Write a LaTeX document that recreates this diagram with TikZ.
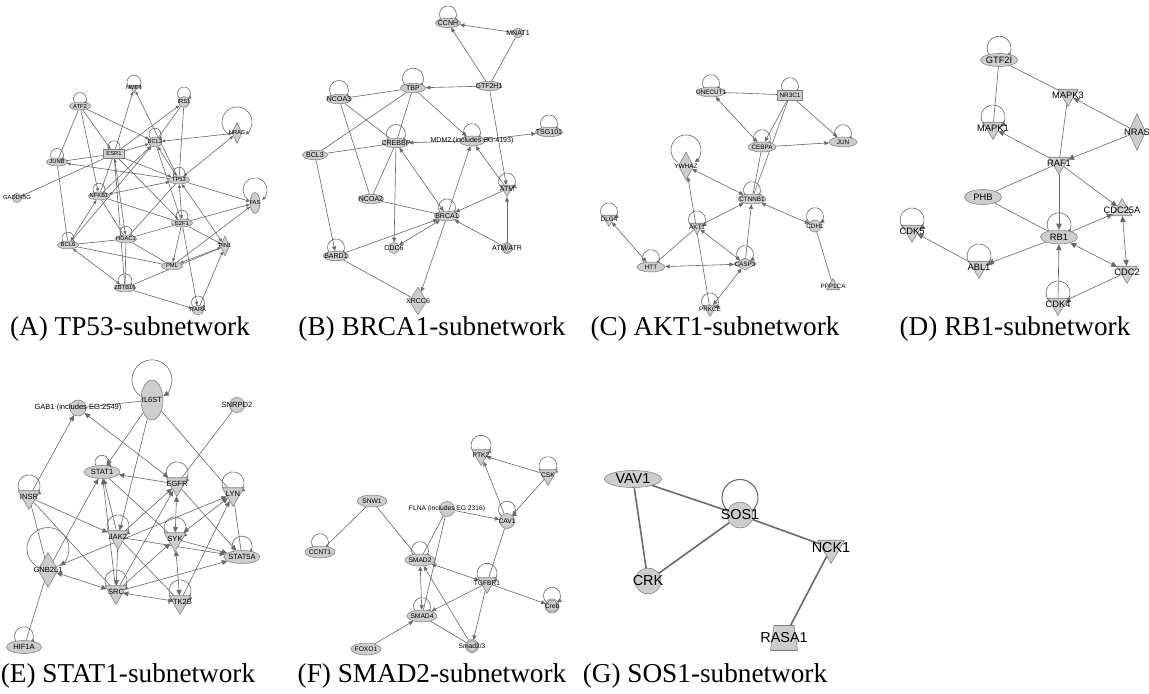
\documentclass[tikz,border=0pt]{standalone}
\usepackage{fontspec}
\setmainfont{Liberation Serif}
\setsansfont{Liberation Sans}
\usetikzlibrary{shapes.geometric,arrows.meta,backgrounds}

\definecolor{genefill}{RGB}{205,205,205}
\definecolor{generim}{RGB}{125,125,125}
\definecolor{linkgray}{RGB}{105,105,105}

\begin{document}
\begin{tikzpicture}[x=0.2mm,y=-0.2mm,
    >={Triangle[length=0.9mm,width=0.8mm]},
    gene/.style={draw=generim,fill=genefill,inner sep=0pt,line width=0.3pt},
    oval/.style 2 args={gene,ellipse,minimum width=#1,minimum height=#2},
    dot/.style={gene,circle,minimum size=#1},
    ddot/.style={dot=#1,double=genefill,double distance=0.35pt},
    down/.style={gene,regular polygon,regular polygon sides=3,shape border rotate=180,minimum size=#1},
    up/.style={gene,regular polygon,regular polygon sides=3,minimum size=#1},
    box/.style 2 args={gene,rectangle,minimum width=#1,minimum height=#2},
    kite/.style 2 args={gene,diamond,minimum width=#1,minimum height=#2},
    tag/.style={label={center:#1}},
    link/.style={draw=linkgray,line width=0.35pt},
    caption/.style={font=\fontsize{15.5}{18}\selectfont,inner sep=0pt}
  ]

  \useasboundingbox (0,0) rectangle (1149,694);

  % (A) TP53
  \begin{scope}[every label/.style={inner sep=0pt,font=\sffamily\fontsize{3.3}{4}\selectfont},
      >={Triangle[length=0.7mm,width=0.6mm]}]
    \node (aNME1) [down=2.1mm,tag=NME1] at (134,88) {};
    \node (aIRS1) [dot=2.2mm,tag=IRS1] at (184,102) {};
    \node (aATF2) [oval={4.2mm}{1.6mm},tag=ATF2] at (80,106) {};
    \node (aBCL2) [oval={2.6mm}{2mm},tag=BCL2] at (155,142) {};
    \node (aNRAS) [kite={2mm}{4.2mm},tag=NRAS] at (237,133) {};
    \node (aESR1) [box={4.2mm}{1.8mm},tag=ESR1] at (114,154) {};
    \node (aJUNB) [oval={4.2mm}{1.6mm},tag=JUNB] at (57,162) {};
    \node (aTP53) [oval={4.2mm}{1.6mm},tag=TP53] at (179,180) {};
    \node (aGADD) [dot=1.8mm,tag=GADD45G] at (17,198) {};
    \node (aNFKB1) [oval={4.2mm}{1.6mm},tag=NFKB1] at (99,196) {};
    \node (aFAS) [oval={2mm}{4.2mm},tag=FAS] at (255,203) {};
    \node (aE2F1) [oval={4.2mm}{1.6mm},tag=E2F1] at (182,223) {};
    \node (aHDAC1) [oval={4.2mm}{1.6mm},tag=HDAC1] at (126,239) {};
    \node (aBCL6) [oval={4.2mm}{1.6mm},tag=BCL6] at (68,245) {};
    \node (aPIN1) [kite={1.8mm}{4mm},tag=PIN1] at (225,246) {};
    \node (aPML) [oval={4.2mm}{1.6mm},tag=PML] at (172,266) {};
    \node (aZBTB16) [oval={4.2mm}{1.6mm},tag=ZBTB16] at (125,288) {};
    \node (aRARA) [oval={2.4mm}{1.8mm},tag=RARA] at (198,310) {};

    \begin{scope}[on background layer]
      \foreach \s/\t in {aATF2/aJUNB,aESR1/aJUNB,aESR1/aNFKB1,aESR1/aZBTB16,aIRS1/aTP53,
          aIRS1/aBCL2,aJUNB/aBCL6,aTP53/aHDAC1,aNFKB1/aE2F1,aNFKB1/aHDAC1,aBCL6/aHDAC1,
          aBCL6/aPML,aHDAC1/aE2F1,aHDAC1/aPML,aHDAC1/aZBTB16,aE2F1/aBCL2,aZBTB16/aPIN1}
        \draw[link] (\s) -- (\t);
      \foreach \s/\t in {aATF2/aESR1,aATF2/aNFKB1,aATF2/aBCL2,aESR1/aNME1,aESR1/aIRS1,
          aESR1/aBCL2,aESR1/aGADD,aESR1/aTP53,aESR1/aE2F1,aTP53/aNME1,aTP53/aJUNB,
          aTP53/aFAS,aNFKB1/aBCL2,aBCL6/aBCL2,aE2F1/aFAS,aE2F1/aPIN1,aE2F1/aPML,
          aE2F1/aRARA,aPML/aFAS,aZBTB16/aRARA,aRARA/aPIN1}
        \draw[link,->] (\s) -- (\t);
      \foreach \s/\t in {aBCL2/aNRAS,aTP53/aNRAS,aBCL2/aTP53,aTP53/aNFKB1,aTP53/aE2F1,
          aTP53/aPIN1,aESR1/aHDAC1,aNFKB1/aBCL6,aBCL6/aZBTB16,aPML/aPIN1}
        \draw[link,<->] (\s) -- (\t);
      % self loops
      \foreach \n/\r in {aNME1/1.4mm,aIRS1/1.3mm,aATF2/1.3mm,aBCL2/1.2mm,aESR1/1.2mm,
          aJUNB/1.3mm,aTP53/1.2mm,aNFKB1/1.2mm,aE2F1/1.2mm,aBCL6/1.2mm,aHDAC1/1.2mm,
          aZBTB16/1.4mm,aRARA/1.3mm}
        \draw[link,->] ([xshift=-0.574*\r,yshift=-0.4*\r]\n.north) arc[start angle=235,end angle=-55,radius=\r];
      \foreach \n/\r/\h in {aNRAS/3mm/-2.4mm,aFAS/2.4mm/-1.5mm}
        \draw[link,->] ([xshift=-0.574*\r,yshift=\h]\n.north) arc[start angle=235,end angle=-55,radius=\r];
    \end{scope}
  \end{scope}

  % (B) BRCA1
  \begin{scope}[every label/.style={inner sep=0pt,font=\sffamily\fontsize{4}{5}\selectfont}]
    \node (bCCNH) [oval={5mm}{1.9mm},tag=CCNH] at (448,23) {};
    \node (bMNAT1) [dot=2mm,tag=MNAT1] at (518,33) {};
    \node (bGTF2H1) [oval={5mm}{1.9mm},tag=GTF2H1] at (489,86) {};
    \node (bTBP) [oval={5mm}{1.9mm},tag=TBP] at (413,88) {};
    \node (bNCOA3) [oval={5mm}{1.9mm},tag=NCOA3] at (339,99) {};
    \node (bTSG101) [oval={5.4mm}{1.9mm},tag=TSG101] at (549,132) {};
    \node (bMDM2) [oval={5mm}{2mm},tag={MDM2 (includes EG:4193)}] at (472,141) {};
    \node (bCREBBP) [oval={5mm}{1.9mm},tag=CREBBP] at (396,143) {};
    \node (bBCL3) [oval={5mm}{1.9mm},tag=BCL3] at (315,155) {};
    \node (bATM) [down=3mm,tag=ATM] at (507,189) {};
    \node (bNCOA2) [oval={5mm}{1.9mm},tag=NCOA2] at (371,199) {};
    \node (bBRCA1) [oval={5mm}{1.9mm},tag=BRCA1] at (447,216) {};
    \node (bCDC6) [dot=2.2mm,tag=CDC6] at (394,248) {};
    \node (bATMATR) [ddot=2mm,tag=ATM/ATR] at (507,248) {};
    \node (bBARD1) [oval={5mm}{1.9mm},tag=BARD1] at (336,256) {};
    \node (bXRCC6) [kite={3.4mm}{5.6mm},tag=XRCC6] at (418,301) {};

    \begin{scope}[on background layer]
      \foreach \s/\t in {bGTF2H1/bMNAT1,bTBP/bNCOA3,bTBP/bBCL3,bTBP/bCREBBP,bNCOA3/bCREBBP,
          bNCOA3/bNCOA2,bBCL3/bCREBBP,bCREBBP/bNCOA2,bNCOA2/bBRCA1,bBARD1/bXRCC6}
        \draw[link] (\s) -- (\t);
      \foreach \s/\t in {bMNAT1/bCCNH,bGTF2H1/bCCNH,bGTF2H1/bTBP,bGTF2H1/bATM,bTBP/bMDM2,
          bMDM2/bCREBBP,bBCL3/bBARD1,bCREBBP/bCDC6,bBRCA1/bMDM2,bATM/bMDM2,bATM/bBRCA1,
          bBARD1/bBRCA1,bATMATR/bBRCA1,bATMATR/bATM,bBRCA1/bXRCC6}
        \draw[link,->] (\s) -- (\t);
      \foreach \s/\t in {bMDM2/bTSG101,bCREBBP/bBRCA1,bCDC6/bBRCA1}
        \draw[link,<->] (\s) -- (\t);
      % self loops
      \foreach \n/\r in {bCCNH/1.7mm,bTBP/2.1mm,bNCOA3/1.9mm,bTSG101/1.7mm,bMDM2/1.7mm,
          bCREBBP/1.9mm,bATM/1.7mm,bBRCA1/1.7mm,bBARD1/1.7mm}
        \draw[link,->] ([xshift=-0.574*\r,yshift=-0.4*\r]\n.north) arc[start angle=235,end angle=-55,radius=\r];
    \end{scope}
  \end{scope}

  % (C) AKT1
  \begin{scope}[every label/.style={inner sep=0pt,font=\sffamily\fontsize{3.6}{4.5}\selectfont}]
    \node (cONECUT1) [oval={5.6mm}{2mm},tag=ONECUT1] at (711,92) {};
    \node (cNR3C1) [box={5mm}{2mm},tag=NR3C1] at (790,95) {};
    \node (cJUN) [oval={5.6mm}{2mm},tag=JUN] at (843,142) {};
    \node (cCEBPA) [oval={5.6mm}{2mm},tag=CEBPA] at (762,147) {};
    \node (cYWHAZ) [kite={3mm}{5.6mm},tag=YWHAZ] at (686,166) {};
    \node (cCTNNB1) [oval={5.6mm}{2mm},tag=CTNNB1] at (752,199) {};
    \node (cDLG4) [down=3mm,tag=DLG4] at (609,219) {};
    \node (cCDH1) [dot=2.4mm,tag=CDH1] at (815,226) {};
    \node (cAKT1) [down=3mm,tag=AKT1] at (697,227) {};
    \node (cCASP3) [kite={4.6mm}{2.4mm},tag=CASP3] at (745,264) {};
    \node (cHTT) [oval={5.6mm}{2mm},tag=HTT] at (651,267) {};
    \node (cPPP1CA) [up=3mm,tag=PPP1CA] at (833,286) {};
    \node (cPRKCE) [down=3mm,tag=PRKCE] at (710,309) {};

    \begin{scope}[on background layer]
      \foreach \s/\t in {cNR3C1/cONECUT1,cNR3C1/cCTNNB1,cCEBPA/cCTNNB1,cHTT/cAKT1,cCDH1/cPPP1CA}
        \draw[link] (\s) -- (\t);
      \foreach \s/\t in {cNR3C1/cCEBPA,cNR3C1/cJUN,cCEBPA/cJUN,cPRKCE/cYWHAZ,cAKT1/cCTNNB1,
          cCASP3/cCTNNB1}
        \draw[link,->] (\s) -- (\t);
      \foreach \s/\t in {cONECUT1/cCEBPA,cYWHAZ/cCTNNB1,cCTNNB1/cCDH1,cDLG4/cHTT,cHTT/cCASP3,
          cAKT1/cCASP3,cCASP3/cPRKCE}
        \draw[link,<->] (\s) -- (\t);
      % self loops
      \foreach \n/\r in {cONECUT1/1.7mm,cNR3C1/1.7mm,cCEBPA/1.7mm,cJUN/1.7mm,cCTNNB1/1.7mm,
          cDLG4/1.7mm,cAKT1/1.7mm,cCDH1/1.7mm,cHTT/1.7mm,cCASP3/1.7mm,cPRKCE/1.7mm}
        \draw[link,->] ([xshift=-0.574*\r,yshift=-0.4*\r]\n.north) arc[start angle=235,end angle=-55,radius=\r];
      \draw[link,->] ([xshift=-0.574*3mm,yshift=-2.1mm]cYWHAZ.north) arc[start angle=235,end angle=-55,radius=3mm];
    \end{scope}
  \end{scope}

  % (D) RB1
  \begin{scope}[every label/.style={inner sep=0pt,font=\sffamily\fontsize{5.3}{6}\selectfont},
      >={Triangle[length=1.2mm,width=1.1mm]}]
    \node (dGTF2I) [oval={7.4mm}{2.6mm},tag=GTF2I] at (999,60) {};
    \node (dMAPK3) [down=4.6mm,tag=MAPK3] at (1068,95) {};
    \node (dMAPK1) [down=4.6mm,tag=MAPK1] at (993,128) {};
    \node (dNRAS) [kite={3.4mm}{7.4mm},tag=NRAS] at (1137,132) {};
    \node (dRAF1) [down=4.6mm,tag=RAF1] at (1059,163) {};
    \node (dPHB) [oval={7.4mm}{3mm},tag=PHB] at (983,197) {};
    \node (dCDC25A) [up=4.6mm,tag=CDC25A] at (1122,210) {};
    \node (dCDK5) [down=4.6mm,tag=CDK5] at (912,231) {};
    \node (dRB1) [oval={7.4mm}{2.8mm},tag=RB1] at (1059,237) {};
    \node (dABL1) [down=4.6mm,tag=ABL1] at (979,267) {};
    \node (dCDC2) [down=4.6mm,tag=CDC2] at (1127,272) {};
    \node (dCDK4) [down=4.6mm,tag=CDK4] at (1058,304) {};

    \begin{scope}[on background layer]
      \foreach \s/\t in {dGTF2I/dMAPK1,dGTF2I/dMAPK3,dMAPK3/dRAF1,dRAF1/dPHB,dPHB/dRB1,dCDC2/dCDK4}
        \draw[link] (\s) -- (\t);
      \foreach \s/\t in {dNRAS/dMAPK3,dRAF1/dMAPK1,dNRAS/dRAF1,dRAF1/dRB1,dRAF1/dCDC25A,
          dRB1/dCDC25A,dRB1/dABL1,dCDK4/dRB1,dABL1/dCDK5}
        \draw[link,->] (\s) -- (\t);
      \foreach \s/\t in {dRB1/dCDC2,dCDC25A/dCDC2}
        \draw[link,<->] (\s) -- (\t);
      % self loops
      \foreach \n/\r in {dGTF2I/2.4mm,dMAPK1/2.4mm,dCDK5/2.4mm,dRB1/2.4mm,dABL1/2.4mm,dCDK4/2.4mm}
        \draw[link,->] ([xshift=-0.574*\r,yshift=-0.4*\r]\n.north) arc[start angle=235,end angle=-55,radius=\r];
    \end{scope}
  \end{scope}

  % (E) STAT1
  \begin{scope}[every label/.style={inner sep=0pt,font=\sffamily\fontsize{4.3}{5}\selectfont},
      >={Triangle[length=1.1mm,width=1mm]}]
    \node (eIL6ST) [oval={4.4mm}{8mm},tag=IL6ST] at (152,400) {};
    \node (eGAB1) [dot=3.2mm,tag={GAB1 (includes EG:2549)}] at (78,408) {};
    \node (eSNRPD2) [dot=3mm,tag=SNRPD2] at (237,405) {};
    \node (eSTAT1) [oval={7.2mm}{2.6mm},tag=STAT1] at (102,472) {};
    \node (eEGFR) [down=5mm,tag=EGFR] at (177,484) {};
    \node (eLYN) [down=5mm,tag=LYN] at (233,494) {};
    \node (eINSR) [down=5mm,tag=INSR] at (29,497) {};
    \node (eJAK2) [down=5mm,tag=JAK2] at (118,537) {};
    \node (eSYK) [down=5mm,tag=SYK] at (175,539) {};
    \node (eSTAT5A) [oval={7.2mm}{2.6mm},tag=STAT5A] at (242,557) {};
    \node (eGNB2L1) [kite={4mm}{7mm},tag=GNB2L1] at (48,570) {};
    \node (eSRC) [down=5mm,tag=SRC] at (116,592) {};
    \node (ePTK2B) [down=5mm,tag=PTK2B] at (180,602) {};
    \node (eHIF1A) [oval={7mm}{2.6mm},tag=HIF1A] at (24,647) {};

    \begin{scope}[on background layer]
      \foreach \s/\t in {eIL6ST/eGAB1,eIL6ST/eLYN,eSNRPD2/eEGFR,eINSR/eSRC,eINSR/eGNB2L1,
          eGNB2L1/eHIF1A,eJAK2/ePTK2B,eLYN/eSTAT5A,eSTAT1/eSYK}
        \draw[link] (\s) -- (\t);
      \foreach \s/\t in {eIL6ST/eSTAT1,eIL6ST/eJAK2,eINSR/eGAB1,eEGFR/eSTAT1,eINSR/eJAK2,
          eGNB2L1/eSTAT1,eGNB2L1/eLYN,eJAK2/eSTAT1,eSRC/eSTAT1,eJAK2/eEGFR,eJAK2/eSTAT5A,
          eJAK2/eSRC,eSRC/eEGFR,eSRC/eSYK,eSRC/eSTAT5A,eSYK/eSTAT5A,ePTK2B/eLYN,
          eEGFR/eSTAT5A,ePTK2B/eSRC}
        \draw[link,->] (\s) -- (\t);
      \foreach \s/\t in {eEGFR/eGAB1,eGNB2L1/eSRC,eSYK/eEGFR,eSYK/eLYN,ePTK2B/eSYK}
        \draw[link,<->] (\s) -- (\t);
      % self loops
      \foreach \n/\r in {eSTAT1/1.4mm,eEGFR/2.2mm,eLYN/2.2mm,eINSR/2.2mm,eJAK2/2.2mm,eSYK/2.2mm,
          eSRC/2.2mm,ePTK2B/2.2mm,eSTAT5A/2mm,eHIF1A/1.9mm}
        \draw[link,->] ([xshift=-0.574*\r,yshift=-0.4*\r]\n.north) arc[start angle=235,end angle=-55,radius=\r];
      \foreach \n/\r/\h in {eIL6ST/4mm/-3.3mm,eGNB2L1/4.2mm/-2.7mm}
        \draw[link,->] ([xshift=-0.574*\r,yshift=\h]\n.north) arc[start angle=235,end angle=-55,radius=\r];
    \end{scope}
  \end{scope}

  % (F) SMAD2
  \begin{scope}[every label/.style={inner sep=0pt,font=\sffamily\fontsize{3.8}{4.5}\selectfont}]
    \node (fPTK2) [down=4.2mm,tag=PTK2] at (481,455) {};
    \node (fCSK) [down=4.2mm,tag=CSK] at (548,475) {};
    \node (fSNW1) [oval={6mm}{2.4mm},tag=SNW1] at (372,501) {};
    \node (fFLNA) [dot=3mm,tag={FLNA (includes EG:2316)}] at (447,509) {};
    \node (fCAV1) [dot=3mm,tag=CAV1] at (507,521) {};
    \node (fCCNT1) [oval={6mm}{2.4mm},tag=CCNT1] at (320,552) {};
    \node (fSMAD2) [oval={6mm}{2.4mm},tag=SMAD2] at (420,560) {};
    \node (fTGFBR1) [down=4.2mm,tag=TGFBR1] at (487,583) {};
    \node (fCreb) [ddot=2.6mm,tag=Creb] at (552,606) {};
    \node (fSMAD4) [oval={6mm}{2.4mm},tag=SMAD4] at (422,616) {};
    \node (fSmad23) [ddot=2.4mm,tag=Smad2/3] at (472,646) {};
    \node (fFOXO1) [oval={6mm}{2.4mm},tag=FOXO1] at (366,649) {};

    \begin{scope}[on background layer]
      \foreach \s/\t in {fSNW1/fCCNT1,fSNW1/fSMAD2,fFLNA/fSMAD2,fFLNA/fSMAD4,fCAV1/fTGFBR1,
          fSMAD4/fSmad23}
        \draw[link] (\s) -- (\t);
      \foreach \s/\t in {fFLNA/fCAV1,fCAV1/fPTK2,fCSK/fPTK2,fCSK/fCAV1,fTGFBR1/fSMAD4,
          fTGFBR1/fCreb,fTGFBR1/fSmad23,fSmad23/fSMAD2,fFOXO1/fSMAD4}
        \draw[link,->] (\s) -- (\t);
      \foreach \s/\t in {fTGFBR1/fSMAD2,fSMAD2/fSMAD4}
        \draw[link,<->] (\s) -- (\t);
      % self loops
      \foreach \n/\r in {fPTK2/2mm,fCSK/1.8mm,fCAV1/1.7mm,fCCNT1/1.7mm,fSMAD2/1.7mm,
          fTGFBR1/2mm,fCreb/1.7mm,fSMAD4/1.7mm}
        \draw[link,->] ([xshift=-0.574*\r,yshift=-0.4*\r]\n.north) arc[start angle=235,end angle=-55,radius=\r];
    \end{scope}
  \end{scope}

  % (G) SOS1
  \begin{scope}[every label/.style={inner sep=0pt,font=\sffamily\fontsize{8.2}{9}\selectfont},
      link/.append style={line width=0.9pt}]
    \node (gVAV1) [oval={11.4mm}{3.4mm},tag=VAV1] at (633,479) {};
    \node (gSOS1) [dot=5.2mm,tag=SOS1] at (740,515) {};
    \node (gNCK1) [down=6.2mm,tag=NCK1] at (831,548) {};
    \node (gCRK) [dot=5.2mm,tag=CRK] at (648,581) {};
    \node (gRASA1) [gene,trapezium,inner sep=1pt,trapezium left angle=80,trapezium right angle=80,
      trapezium stretches=true,minimum width=5.4mm,minimum height=5mm,tag=RASA1] at (784,638) {};

    \begin{scope}[on background layer]
      \foreach \s/\t in {gVAV1/gSOS1,gVAV1/gCRK,gCRK/gSOS1,gSOS1/gNCK1,gNCK1/gRASA1}
        \draw[link] (\s) -- (\t);
      \draw[link,line width=0.6pt] ([xshift=-0.574*3.6mm,yshift=-2.1mm]gSOS1.north)
        arc[start angle=235,end angle=-55,radius=3.6mm];
    \end{scope}
  \end{scope}

  % captions
  \node (capA) [caption] at (130,329) {(A) TP53-subnetwork};
  \node (capB) [caption] at (432,329) {(B) BRCA1-subnetwork};
  \node (capC) [caption] at (715,329) {(C) AKT1-subnetwork};
  \node (capD) [caption] at (1015,329) {(D) RB1-subnetwork};
  \node (capE) [caption] at (128,676) {(E) STAT1-subnetwork};
  \node (capF) [caption] at (432,676) {(F) SMAD2-subnetwork};
  \node (capG) [caption] at (705,676) {(G) SOS1-subnetwork};

\end{tikzpicture}
\end{document}
